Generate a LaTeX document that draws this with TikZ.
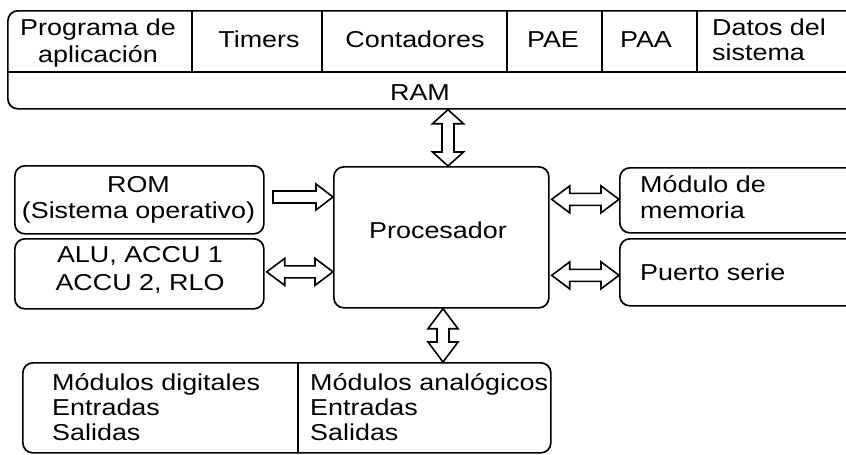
\documentclass[tikz,border=0pt]{standalone}
\usepackage{fontspec}
\setmainfont[FakeStretch=1.17]{Liberation Sans}
\usetikzlibrary{calc}
\newcommand\myVdouble[4]{%
  \draw[arr] let \p1=(#1), \p2=(#2) in
   (\x1,\y1) -- (\x1+#4,\y1-#3) -- (\x1+6pt,\y1-#3) -- (\x1+6pt,\y2+#3) -- (\x1+#4,\y2+#3)
   -- (\x1,\y2) -- (\x1-#4,\y2+#3) -- (\x1-6pt,\y2+#3) -- (\x1-6pt,\y1-#3) -- (\x1-#4,\y1-#3) -- cycle;}
\newcommand\myHdouble[4]{%
  \draw[arr] let \p1=(#1), \p2=(#2) in
   (\x1,\y1) -- (\x1+#3,\y1+#4) -- (\x1+#3,\y1+6pt) -- (\x2-#3,\y1+6pt) -- (\x2-#3,\y1+#4)
   -- (\x2,\y1) -- (\x2-#3,\y1-#4) -- (\x2-#3,\y1-6pt) -- (\x1+#3,\y1-6pt) -- (\x1+#3,\y1-#4) -- cycle;}
\newcommand\myHsingle[4]{%
  \draw[arr] let \p1=(#1), \p2=(#2) in
   (\x1,\y1+6pt) -- (\x2-#3,\y1+6pt) -- (\x2-#3,\y1+#4) -- (\x2,\y1)
   -- (\x2-#3,\y1-#4) -- (\x2-#3,\y1-6pt) -- (\x1,\y1-6pt) -- cycle;}
\begin{document}
\begin{tikzpicture}[x=1pt,y=-1pt,
  blk/.style={draw, line width=1.7pt, rounded corners=10pt, inner sep=0pt, anchor=north west},
  arr/.style={draw, line width=1.6pt, fill=white, line join=miter},
  txt/.style={inner sep=0pt, font=\fontsize{23}{26}\selectfont},
  thin/.style={line width=1.7pt}]
\useasboundingbox (0,0) rectangle (846,455);
\fill[white] (0,0) rectangle (846,455);
\clip (0,0) rectangle (846,455);
% RAM block
\node[blk, minimum width=880pt, minimum height=98pt] (ram) at (7,10) {};
\draw[thin] (7,72) -- (890,72);
\foreach \xx in {192,322,507,602,697} \draw[thin] (\xx,10) -- (\xx,72);
\node[txt, anchor=base, align=center, font=\fontsize{23}{27}\selectfont] (prog) at (98,62) {Programa de\\aplicación};
\node[txt, anchor=base] (timers) at (259,47) {Timers};
\node[txt, anchor=base] (cont) at (415,47) {Contadores};
\node[txt, anchor=base] (pae) at (553,47) {PAE};
\node[txt, anchor=base] (paa) at (646,47) {PAA};
\node[txt, anchor=base west, align=left, font=\fontsize{23}{25}\selectfont] (datos) at (712,60) {Datos del\\sistema};
\node[txt, anchor=base] (ramt) at (420,100) {RAM};
% middle row
\node[blk, minimum width=249pt, minimum height=68pt] (rom) at (14,165) {};
\node[blk, minimum width=249pt, minimum height=70pt] (alu) at (14,238) {};
\node[blk, minimum width=215pt, minimum height=141pt] (proc) at (333,166) {};
\node[blk, minimum width=260pt, minimum height=65pt] (mem) at (619,167) {};
\node[blk, minimum width=260pt, minimum height=67pt] (ps) at (619,238) {};
\node[txt, anchor=base, align=center] (romt) at (138.5,218) {ROM\\(Sistema operativo)};
\node[txt, anchor=base, align=center, font=\fontsize{23}{28}\selectfont] (alut) at (140,290) {ALU, ACCU 1\\ACCU 2, RLO};
\node[txt, anchor=base] (proct) at (438,238) {Procesador};
\node[txt, anchor=base west, align=left] (memt) at (640,218) {Módulo de\\memoria};
\node[txt, anchor=base west] (pst) at (640,280) {Puerto serie};
% bottom
\node[blk, minimum width=528pt, minimum height=90pt] (io) at (22,362) {};
\draw[thin] (298,362) -- (298,452);
\node[txt, anchor=base west, align=left, font=\fontsize{23}{25}\selectfont] (dig) at (52,440) {Módulos digitales\\Entradas\\Salidas};
\node[txt, anchor=base west, align=left, font=\fontsize{23}{25}\selectfont] (ana) at (310,440) {Módulos analógicos\\Entradas\\Salidas};
% connectors
\coordinate (ta) at (448,0);
\coordinate (tb) at (443,0);
\coordinate (romtail) at (273,197);
\myVdouble{ram.south -| ta}{proc.north -| ta}{14pt}{15.5pt}
\myVdouble{proc.south -| tb}{io.north -| tb}{20pt}{15pt}
\myHsingle{romtail}{proc.west |- romtail}{17pt}{13pt}
\myHdouble{$(alu.east)+(2,-2)$}{$(proc.west |- alu.east)+(0,-2)$}{18pt}{13.5pt}
\myHdouble{$(proc.east |- mem.west)+(2,-1)$}{mem.west}{18pt}{13.5pt}
\myHdouble{$(proc.east |- ps.west)+(2,3)$}{ps.west}{18pt}{13.5pt}
\end{tikzpicture}
\end{document}
